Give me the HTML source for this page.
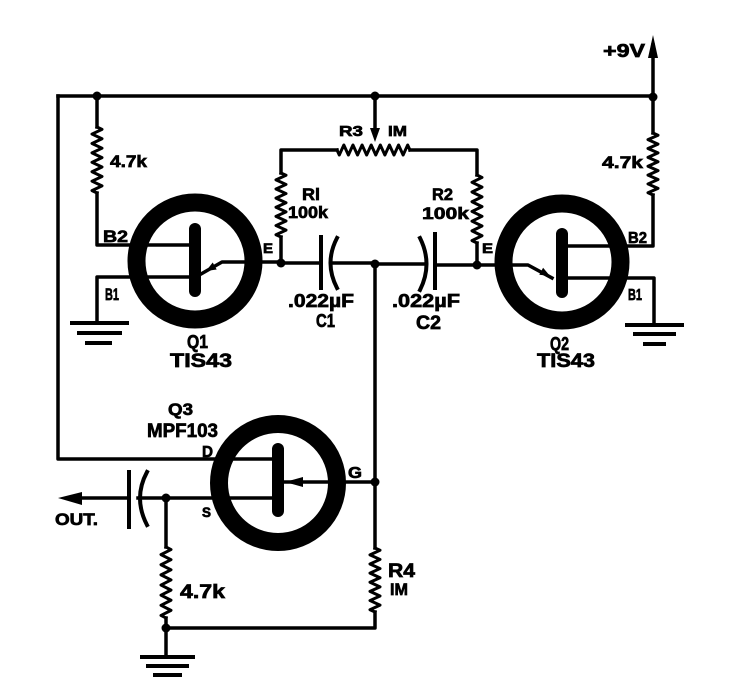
<!DOCTYPE html>
<html><head><meta charset="utf-8"><style>
html,body{margin:0;padding:0;background:#fff;}
svg{display:block;}
text{font-family:"Liberation Sans",Arial,sans-serif;font-weight:bold;fill:#000;stroke:#000;stroke-width:0.7;}
</style></head><body>
<svg width="729" height="686" viewBox="0 0 729 686" xmlns="http://www.w3.org/2000/svg">
<rect width="729" height="686" fill="#fff"/>
<g fill="none" stroke="#000" stroke-width="3.5" stroke-linejoin="round" stroke-linecap="square">
<path d="M58,96 H653"/>
<path d="M58,96 V459 H278"/>
<path d="M97,96 V127"/>
<path stroke-width="3" d="M97,127 l5,2.36 l-10,4.71 l10,4.71 l-10,4.71 l10,4.71 l-10,4.71 l10,4.71 l-10,4.71 l10,4.71 l-10,4.71 l10,4.71 l-10,4.71 l10,4.71 l-10,4.71 l5,2.36"/>
<path d="M97,193 V245 H195"/>
<path d="M195,277 H97 V323"/>
<path d="M201,274 L222,262 H281"/>
<path d="M281,263 V237"/>
<path stroke-width="3" d="M281,173 l5,2.29 l-10,4.57 l10,4.57 l-10,4.57 l10,4.57 l-10,4.57 l10,4.57 l-10,4.57 l10,4.57 l-10,4.57 l10,4.57 l-10,4.57 l10,4.57 l-10,4.57 l5,2.29"/>
<path d="M281,173 V150 H337"/>
<path stroke-width="3" d="M337,150 l2.28,5 l4.56,-10 l4.56,10 l4.56,-10 l4.56,10 l4.56,-10 l4.56,10 l4.56,-10 l4.56,10 l4.56,-10 l4.56,10 l4.56,-10 l4.56,10 l4.56,-10 l4.56,10 l4.56,-10 l2.28,5"/>
<path d="M410,150 H477 V175"/>
<path stroke-width="3" d="M477,175 l5,2.43 l-10,4.86 l10,4.86 l-10,4.86 l10,4.86 l-10,4.86 l10,4.86 l-10,4.86 l10,4.86 l-10,4.86 l10,4.86 l-10,4.86 l10,4.86 l-10,4.86 l5,2.43"/>
<path d="M477,243 V265"/>
<path d="M375,96 V128"/>
<path d="M281,263 H321"/>
<path stroke-width="4" d="M321,237 V288"/>
<path stroke-width="4" d="M337,238 Q324,263 337,288"/>
<path d="M331,263 H375"/>
<path d="M375,264 H426"/>
<path stroke-width="4" d="M420,238 Q433,264 420,290"/>
<path stroke-width="4" d="M435,234 V288"/>
<path d="M435,265 H528 L552,278"/>
<path d="M562,246 H653 V195"/>
<path stroke-width="3" d="M653,133 l5,2.21 l-10,4.43 l10,4.43 l-10,4.43 l10,4.43 l-10,4.43 l10,4.43 l-10,4.43 l10,4.43 l-10,4.43 l10,4.43 l-10,4.43 l10,4.43 l-10,4.43 l5,2.21"/>
<path d="M653,133 V45"/>
<path d="M562,278 H654 V325"/>
<path stroke-width="4" d="M72,323 H127 M79,333 H120 M87,343 H110"/>
<path stroke-width="4" d="M627,325 H682 M635,334 H674 M645,344 H664"/>
<path stroke-width="4" d="M142,657 H193 M148,666 H187 M155,675 H180"/>
<path d="M278,482 H375"/>
<path d="M375,263 V548"/>
<path stroke-width="3" d="M375,548 l5,2.29 l-10,4.57 l10,4.57 l-10,4.57 l10,4.57 l-10,4.57 l10,4.57 l-10,4.57 l10,4.57 l-10,4.57 l10,4.57 l-10,4.57 l10,4.57 l-10,4.57 l5,2.29"/>
<path d="M375,612 V628 H166"/>
<path d="M278,498 H138"/>
<path d="M166,498 V547"/>
<path stroke-width="3" d="M166,547 l5,2.54 l-10,5.07 l10,5.07 l-10,5.07 l10,5.07 l-10,5.07 l10,5.07 l-10,5.07 l10,5.07 l-10,5.07 l10,5.07 l-10,5.07 l10,5.07 l-10,5.07 l5,2.54"/>
<path d="M166,618 V657"/>
<path stroke-width="4" d="M129,472 V527"/>
<path stroke-width="4" d="M147,472 Q133,498 147,525"/>
<path d="M129,498 H75"/>
<circle cx="195" cy="261" r="58.5" stroke-width="18"/>
<circle cx="562" cy="262" r="58.5" stroke-width="18"/>
<circle cx="278" cy="483" r="59" stroke-width="18"/>
</g>
<g stroke="#000" stroke-width="12" stroke-linecap="round">
<path d="M195,229 V291"/>
<path d="M562,234 V292"/>
<path d="M278,449 V511"/>
</g>
<g fill="#000">
<circle cx="97" cy="96" r="4.5"/>
<circle cx="375" cy="96" r="4.5"/>
<circle cx="653" cy="97" r="4.5"/>
<circle cx="281" cy="263" r="4.5"/>
<circle cx="375" cy="264" r="4.5"/>
<circle cx="477" cy="265" r="4.5"/>
<circle cx="375" cy="482" r="4.5"/>
<circle cx="166" cy="498" r="4.5"/>
<circle cx="166" cy="628" r="4.5"/>
<polygon points="206,271 216.7,269.5 212.7,262.5"/>
<polygon points="550,276 539.3,274.7 543.1,267.7"/>
<polygon points="370,128 380,128 375,142"/>
<polygon points="648,58 658,58 653,35"/>
<polygon points="285,482 303,477 303,487"/>
<polygon points="58,498 82,492 82,505"/>
</g>
<g>
<text x="110" y="167" font-size="17" textLength="37" lengthAdjust="spacingAndGlyphs">4.7k</text>
<text x="339" y="136" font-size="15" textLength="24" lengthAdjust="spacingAndGlyphs">R3</text>
<text x="388" y="136" font-size="15" textLength="19" lengthAdjust="spacingAndGlyphs">IM</text>
<text x="302" y="200" font-size="17" textLength="18" lengthAdjust="spacingAndGlyphs">Rl</text>
<text x="288" y="218" font-size="17" textLength="40" lengthAdjust="spacingAndGlyphs">100k</text>
<text x="432" y="200" font-size="17" textLength="21" lengthAdjust="spacingAndGlyphs">R2</text>
<text x="422" y="219" font-size="17" textLength="47" lengthAdjust="spacingAndGlyphs">100k</text>
<text x="103" y="242" font-size="17" textLength="25" lengthAdjust="spacingAndGlyphs">B2</text>
<text x="263" y="253" font-size="14" textLength="10" lengthAdjust="spacingAndGlyphs">E</text>
<text x="105" y="300" font-size="17" textLength="14" lengthAdjust="spacingAndGlyphs">B1</text>
<text x="288" y="307" font-size="18" textLength="66" lengthAdjust="spacingAndGlyphs">.022µF</text>
<text x="316" y="327" font-size="18" textLength="19" lengthAdjust="spacingAndGlyphs">C1</text>
<text x="187" y="348" font-size="18" textLength="21" lengthAdjust="spacingAndGlyphs">Q1</text>
<text x="170" y="367" font-size="19" textLength="62" lengthAdjust="spacingAndGlyphs">TIS43</text>
<text x="602" y="168" font-size="17" textLength="41" lengthAdjust="spacingAndGlyphs">4.7k</text>
<text x="603" y="57" font-size="18" textLength="42" lengthAdjust="spacingAndGlyphs">+9V</text>
<text x="482" y="253" font-size="14" textLength="11" lengthAdjust="spacingAndGlyphs">E</text>
<text x="628" y="243" font-size="16" textLength="19" lengthAdjust="spacingAndGlyphs">B2</text>
<text x="628" y="300" font-size="16" textLength="14" lengthAdjust="spacingAndGlyphs">B1</text>
<text x="392" y="307" font-size="18" textLength="68" lengthAdjust="spacingAndGlyphs">.022µF</text>
<text x="416" y="329" font-size="19" textLength="25" lengthAdjust="spacingAndGlyphs">C2</text>
<text x="550" y="350" font-size="18" textLength="19" lengthAdjust="spacingAndGlyphs">Q2</text>
<text x="537" y="367" font-size="19" textLength="58" lengthAdjust="spacingAndGlyphs">TIS43</text>
<text x="168" y="415" font-size="17" textLength="25" lengthAdjust="spacingAndGlyphs">Q3</text>
<text x="147" y="437" font-size="19" textLength="71" lengthAdjust="spacingAndGlyphs">MPF103</text>
<text x="202" y="457" font-size="16" textLength="11" lengthAdjust="spacingAndGlyphs">D</text>
<text x="348" y="478" font-size="16" textLength="14" lengthAdjust="spacingAndGlyphs">G</text>
<text x="202" y="517" font-size="14" textLength="9" lengthAdjust="spacingAndGlyphs">S</text>
<text x="55" y="525" font-size="17" textLength="43" lengthAdjust="spacingAndGlyphs">OUT.</text>
<text x="180" y="598" font-size="19" textLength="45" lengthAdjust="spacingAndGlyphs">4.7k</text>
<text x="388" y="577" font-size="19" textLength="27" lengthAdjust="spacingAndGlyphs">R4</text>
<text x="390" y="595" font-size="17" textLength="18" lengthAdjust="spacingAndGlyphs">IM</text>
</g>
</svg>
</body></html>
